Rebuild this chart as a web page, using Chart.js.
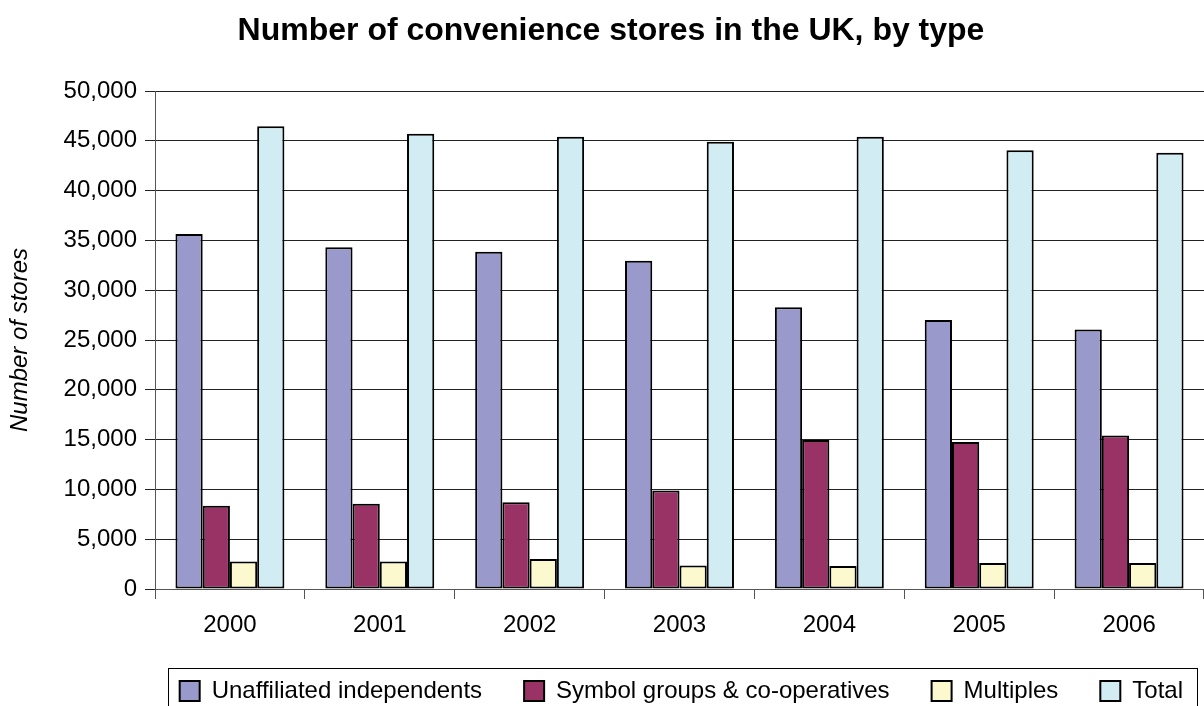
<!DOCTYPE html>
<html lang="en">

<head>
    <meta charset="UTF-8">
    <title>Convenience stores in the UK</title>
    <style>
        body {
            margin: 0;
            padding: 0;
            background-color: #ffffff;
            overflow: hidden;
        }

        canvas {
            display: block;
        }
    </style>
    <script src="https://cdn.jsdelivr.net/npm/chart.js"></script>
</head>

<body>
    <canvas id="storesChart" width="1204" height="713"></canvas>
    <script>
        const years = ['2000', '2001', '2002', '2003', '2004', '2005', '2006'];
        const unaffiliated = [35650, 34300, 33850, 32950, 28300, 27000, 26050];
        const symbolGroups = [8350, 8550, 8700, 9900, 14950, 14750, 15400];
        const multiples = [2750, 2750, 3000, 2350, 2300, 2600, 2600];
        const total = [46450, 45700, 45400, 44900, 45400, 44050, 43800];

        const FONT = "'Liberation Sans', Arial, sans-serif";

        // nudge title and legend a little to the right of the canvas centre
        const nudgeBoxes = {
            id: 'nudgeBoxes',
            afterLayout(chart) {
                chart.titleBlock.left += 9;
                chart.titleBlock.right += 9;
                chart.legend.left += 21;
                chart.legend.right += 21;
            }
        };

        // thin frame round the legend, open at the bottom edge of the page
        const legendFrame = {
            id: 'legendFrame',
            afterDraw(chart) {
                const legend = chart.legend;
                const boxes = legend.legendHitBoxes;
                if (!boxes || !boxes.length) return;
                const first = boxes[0];
                const last = boxes[boxes.length - 1];
                const ctx = chart.ctx;
                ctx.save();
                ctx.strokeStyle = '#000';
                ctx.lineWidth = 1;
                const left = Math.round(first.left - 12) + 0.5;
                const right = Math.round(last.left + last.width + 14) + 0.5;
                const top = Math.round(legend.top + 31) + 0.5;
                ctx.strokeRect(left, top, right - left, 60);
                ctx.restore();
            }
        };

        function makeSet(label, data, color) {
            return {
                label: label,
                data: data,
                backgroundColor: color,
                borderColor: '#000',
                borderWidth: 2,
                borderSkipped: false,
                categoryPercentage: 0.727,
                barPercentage: 1.0
            };
        }

        new Chart(document.getElementById('storesChart'), {
            type: 'bar',
            data: {
                labels: years,
                datasets: [
                    makeSet('Unaffiliated independents', unaffiliated, '#9999cc'),
                    makeSet('Symbol groups & co-operatives', symbolGroups, '#993366'),
                    makeSet('Multiples', multiples, '#fcf9cf'),
                    makeSet('Total', total, '#d2ecf4')
                ]
            },
            options: {
                responsive: false,
                animation: false,
                layout: { padding: 0 },
                plugins: {
                    title: {
                        display: true,
                        text: 'Number of convenience stores in the UK, by type',
                        color: '#000',
                        font: { family: FONT, size: 32, weight: 'bold' },
                        padding: { top: 12, bottom: 40.6 }
                    },
                    legend: {
                        display: true,
                        position: 'bottom',
                        align: 'end',
                        labels: {
                            color: '#000',
                            font: { family: FONT, size: 24 },
                            boxWidth: 20,
                            boxHeight: 20,
                            padding: 42
                        }
                    },
                    tooltip: { enabled: false }
                },
                scales: {
                    x: {
                        grid: {
                            offset: true,
                            drawOnChartArea: false,
                            drawTicks: true,
                            tickLength: 10,
                            color: '#555'
                        },
                        border: { display: true, color: '#555', width: 1 },
                        ticks: {
                            color: '#000',
                            font: { family: FONT, size: 24 },
                            padding: 12,
                            maxRotation: 0
                        },
                        afterFit(scale) {
                            scale.height = 48;
                        }
                    },
                    y: {
                        min: 0,
                        max: 50000,
                        grid: {
                            color: '#222',
                            lineWidth: 1,
                            tickLength: 10
                        },
                        border: { display: true, color: '#555', width: 1 },
                        ticks: {
                            stepSize: 5000,
                            color: '#000',
                            font: { family: FONT, size: 24 },
                            padding: 8,
                            callback: value => value.toLocaleString('en-US')
                        },
                        title: {
                            display: true,
                            text: 'Number of stores',
                            color: '#000',
                            font: { family: FONT, size: 24, style: 'italic' },
                            padding: { top: 6, bottom: 0 }
                        },
                        afterFit(scale) {
                            scale.width = 155;
                        }
                    }
                }
            },
            plugins: [nudgeBoxes, legendFrame]
        });
    </script>
</body>

</html>
